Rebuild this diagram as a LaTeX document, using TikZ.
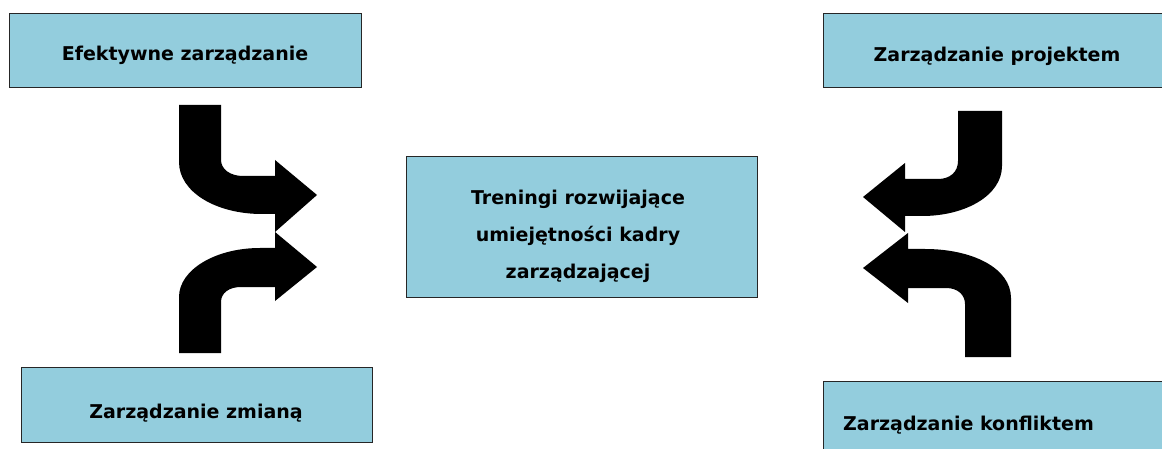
\documentclass[tikz,border=0pt]{standalone}
\usepackage{fontspec}
\setmainfont{DejaVu Sans}
\begin{document}
\begin{tikzpicture}[x=1pt,y=-1pt,
  box/.style={draw=black!85, line width=1pt, fill=boxblue, rectangle,
    inner sep=0pt, outer sep=0pt},
  lbl/.style={inner sep=0pt, font=\fontsize{19}{36.5}\selectfont\bfseries},
  bent/.style={fill=black, draw=none}]
\definecolor{boxblue}{RGB}{147,205,221}
\useasboundingbox (0,0) rectangle (1162,449);
\clip (0,0) rectangle (1162,449);

% boxes
\node[box, minimum width=352pt, minimum height=74pt]  (efekt)  at (185,51)    {};
\node[box, minimum width=351pt, minimum height=75pt]  (zmiana) at (196.5,404.5) {};
\node[box, minimum width=351pt, minimum height=140pt] (trening) at (581.5,227) {};
\node[box, minimum width=351pt, minimum height=74pt]  (projekt) at (998.5,51)  {};
\node[box, minimum width=351pt, minimum height=75pt]  (konflikt) at (998.5,418.5) {};

% labels
\node[lbl, anchor=base] (tEfekt)   at (185,61)  {Efektywne zarządzanie};
\node[lbl, anchor=base] (tZmiana)  at (196,418) {Zarządzanie zmianą};
\node[lbl, anchor=base] (tProjekt) at (997,62)  {Zarządzanie projektem};
\node[lbl, anchor=base west] (tKonflikt) at (843,430) {Zarządzanie konfliktem};
\node[lbl, anchor=base] (tTr1) at (578,205) {Treningi rozwijające};
\node[lbl, anchor=base] (tTr2) at (578,242) {umiejętności kadry};
\node[lbl, anchor=base] (tTr3) at (578,278) {zarządzającej};

% bent block arrows, left side
\fill[bent] (179,105) -- (221,105) -- (221,160)
  .. controls (221,169) and (230,176) .. (243,176)
  -- (275,176) -- (275,160) -- (317,195) -- (275,232) -- (275,214) -- (262,214)
  .. controls (216,214) and (179,192) .. (179,162) -- cycle;
\fill[bent] (179,353) -- (221,353) -- (221,302)
  .. controls (221,293) and (229,287) .. (241,287)
  -- (275,287) -- (275,301) -- (317,267) -- (275,232) -- (275,248) -- (260,248)
  .. controls (215,248) and (179,270) .. (179,297) -- cycle;

% bent block arrows, right side
\fill[bent] (958,111) -- (1002,111) -- (1002,166)
  .. controls (1002,195) and (966,216) .. (922,216)
  -- (905,216) -- (905,232) -- (863,197) -- (905,163) -- (905,179) -- (938,179)
  .. controls (950,179) and (958,172) .. (958,161) -- cycle;
\fill[bent] (965,357) -- (1011,357) -- (1011,298)
  .. controls (1011,268) and (972,249) .. (925,249)
  -- (908,249) -- (908,233) -- (863,268) -- (908,303) -- (908,288) -- (946,288)
  .. controls (958,288) and (965,295) .. (965,304) -- cycle;
\end{tikzpicture}
\end{document}
